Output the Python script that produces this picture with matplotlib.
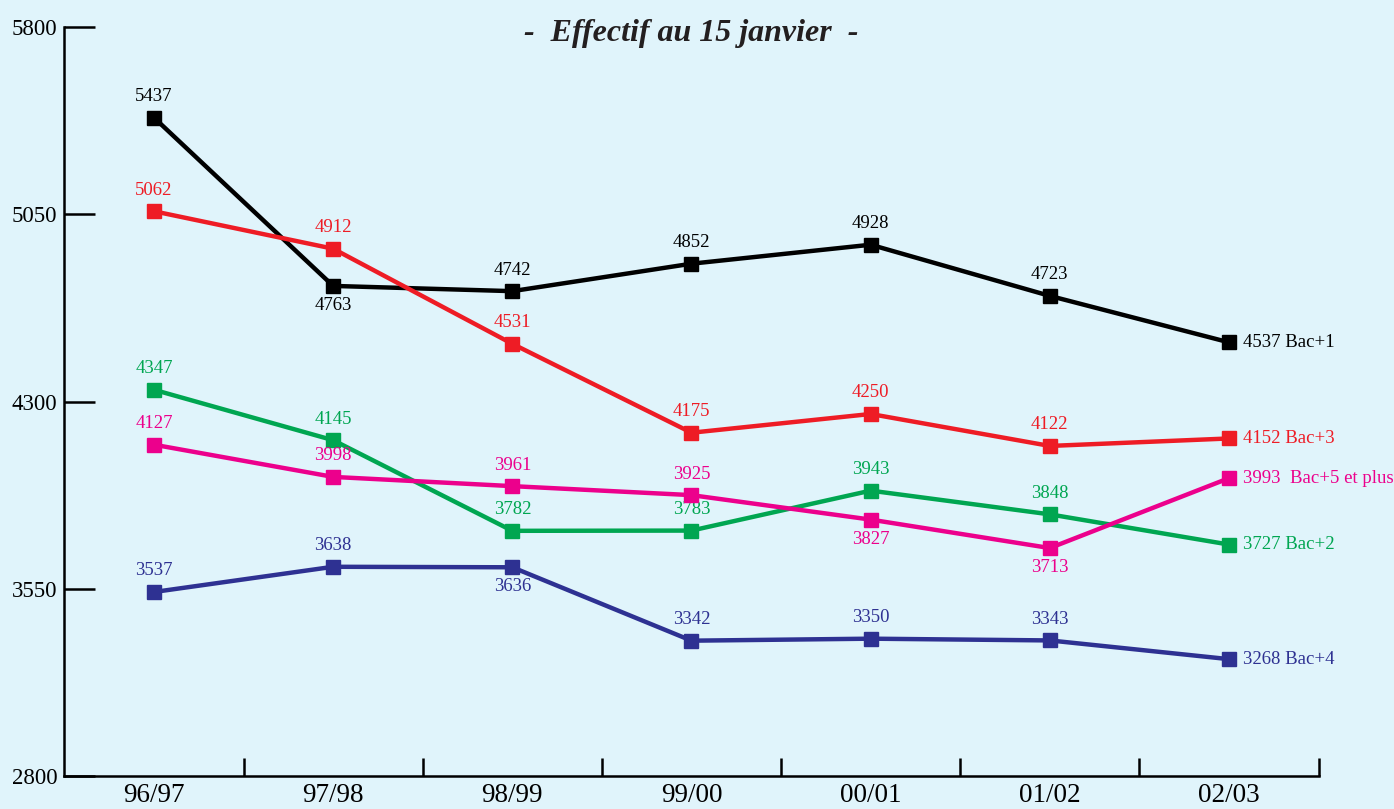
import matplotlib.pyplot as plt
import numpy as np

plt.rcParams['font.family'] = ['Liberation Serif', 'DejaVu Serif']

years = ['96/97', '97/98', '98/99', '99/00', '00/01', '01/02', '02/03']
bac1 = [5437, 4763, 4742, 4852, 4928, 4723, 4537]
bac3 = [5062, 4912, 4531, 4175, 4250, 4122, 4152]
bac2 = [4347, 4145, 3782, 3783, 3943, 3848, 3727]
bac5 = [4127, 3998, 3961, 3925, 3827, 3713, 3993]
bac4 = [3537, 3638, 3636, 3342, 3350, 3343, 3268]

# 1 = label above point, -1 = below
pos1 = [1, -1, 1, 1, 1, 1]
pos3 = [1, 1, 1, 1, 1, 1]
pos2 = [1, 1, 1, 1, 1, 1]
pos5 = [1, 1, 1, 1, -1, -1]
pos4 = [1, 1, -1, 1, 1, 1]

series = [
    (bac1, pos1, '#000000', 'Bac+1', ' '),
    (bac3, pos3, '#EE1C25', 'Bac+3', ' '),
    (bac2, pos2, '#00A651', 'Bac+2', ' '),
    (bac5, pos5, '#EC008C', 'Bac+5 et plus', '  '),
    (bac4, pos4, '#2E3192', 'Bac+4', ' '),
]

bg = '#E0F4FB'
fig = plt.figure(figsize=(13.94, 8.09), dpi=100, facecolor=bg)
ax = fig.add_axes([0.0462, 0.0408, 0.8997, 0.9258], facecolor=bg)

x = np.arange(len(years))
for vals, pos, col, name, sep in series:
    ax.plot(x, vals, color=col, lw=3.2, marker='s', ms=10, zorder=3)
    for i in range(len(vals) - 1):
        off = 9 if pos[i] > 0 else -8
        ax.annotate(str(vals[i]), (x[i], vals[i]), xytext=(0, off),
                    textcoords='offset points', ha='center',
                    va='bottom' if pos[i] > 0 else 'top',
                    fontsize=13.5, color=col)
    ax.annotate(f'{vals[-1]}{sep}{name}', (x[-1], vals[-1]), xytext=(10, 0),
                textcoords='offset points', ha='left', va='center',
                fontsize=13.5, color=col, annotation_clip=False)

ax.set_xlim(-0.5, 6.5)
ax.set_ylim(2800, 5800)
ax.set_yticks([2800, 3550, 4300, 5050, 5800])
ax.tick_params(axis='y', direction='in', length=22, width=1.8, labelsize=16.5, pad=5)
ax.set_xticks(np.arange(0.5, 7, 1))
ax.set_xticklabels([])
ax.tick_params(axis='x', which='major', direction='in', length=13, width=1.8)
ax.set_xticks(x, minor=True)
ax.set_xticklabels(years, minor=True)
ax.tick_params(axis='x', which='minor', length=0, labelsize=19.5, pad=5)

for s in ['top', 'right']:
    ax.spines[s].set_visible(False)
for s in ['left', 'bottom']:
    ax.spines[s].set_linewidth(1.8)

ax.text(0.5, 0.992, '-  Effectif au 15 janvier  -', transform=ax.transAxes,
        ha='center', va='center', fontsize=23, fontweight='bold',
        fontstyle='italic', color='#231F20')

fig.savefig('out.png', dpi=100, facecolor=bg)
